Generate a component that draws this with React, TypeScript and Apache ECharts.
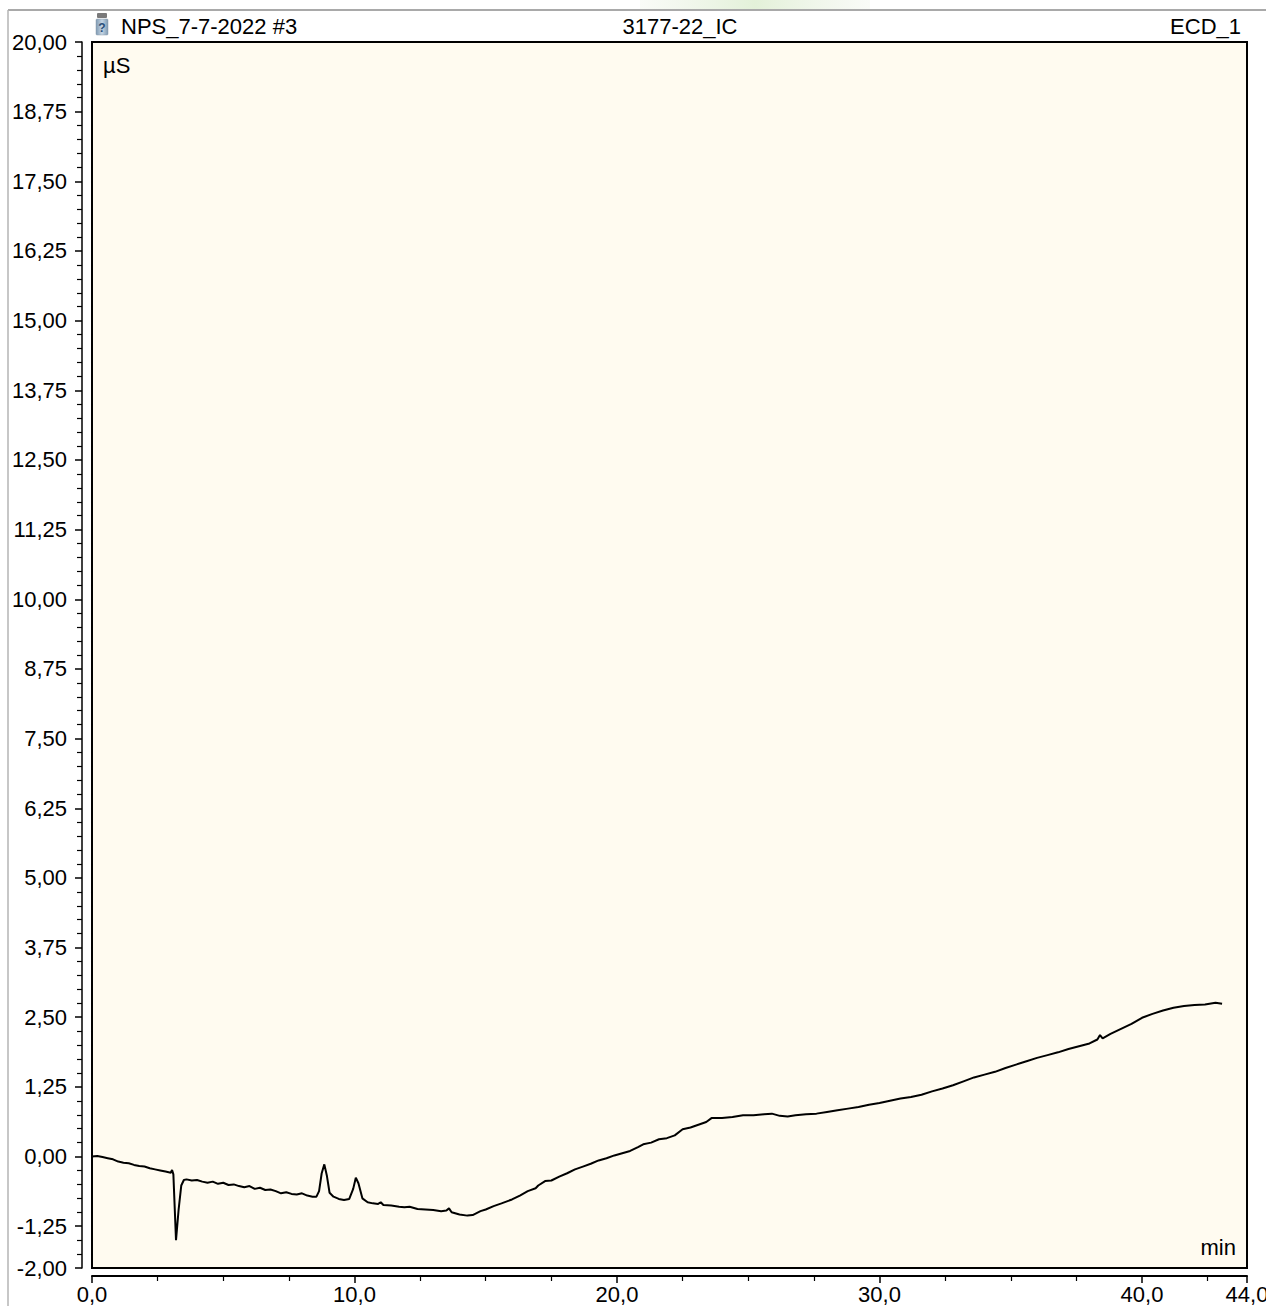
import React, { useEffect, useRef } from "react";
import * as echarts from "echarts";

// Retention time (min)
const timeMin: number[] = [
  0.0, 0.2, 0.4, 0.6, 0.8, 1.0, 1.2, 1.4, 1.6, 1.8, 2.0, 2.2, 2.4, 2.6, 2.8, 3.0, 3.05, 3.1,
  3.2, 3.3, 3.4, 3.5, 3.6, 3.8, 4.0, 4.2, 4.4, 4.6, 4.8, 5.0, 5.2, 5.4, 5.6, 5.8, 6.0, 6.2,
  6.4, 6.6, 6.8, 7.0, 7.2, 7.4, 7.6, 7.8, 8.0, 8.2, 8.4, 8.55, 8.65, 8.75, 8.85, 8.95, 9.05,
  9.2, 9.4, 9.6, 9.8, 9.95, 10.05, 10.15, 10.3, 10.5, 10.7, 10.9, 11.0, 11.1, 11.4, 11.7,
  11.9, 12.1, 12.4, 12.7, 13.0, 13.3, 13.5, 13.6, 13.7, 14.0, 14.3, 14.5, 14.8, 15.0, 15.3,
  15.6, 16.0, 16.3, 16.6, 16.9, 17.0, 17.26, 17.5, 17.8, 18.1, 18.4, 18.7, 19.0, 19.3, 19.6,
  19.9, 20.2, 20.5, 20.8, 21.0, 21.3, 21.6, 21.9, 22.2, 22.5, 22.8, 23.1, 23.4, 23.6, 24.0,
  24.4, 24.8, 25.2, 25.6, 25.9, 26.2, 26.5, 26.8, 27.2, 27.6, 28.0, 28.4, 28.8, 29.2, 29.6,
  30.0, 30.4, 30.8, 31.2, 31.6, 32.0, 32.4, 32.8, 33.2, 33.6, 34.0, 34.4, 34.8, 35.2, 35.6,
  36.0, 36.4, 36.8, 37.2, 37.6, 38.0, 38.3, 38.4, 38.5, 38.8, 39.2, 39.6, 40.0, 40.4, 40.8,
  41.2, 41.6, 42.0, 42.4, 42.8, 43.05,
];

// Conductivity (µS)
const signalUS: number[] = [
  0.0, 0.01, -0.01, -0.03, -0.05, -0.09, -0.11, -0.12, -0.15, -0.17, -0.18, -0.21, -0.23, -0.25, -0.27, -0.29, -0.24, -0.32,
  -1.5, -0.95, -0.52, -0.42, -0.41, -0.43, -0.42, -0.45, -0.47, -0.45, -0.49, -0.47, -0.51, -0.5, -0.53, -0.55, -0.53, -0.58,
  -0.56, -0.6, -0.59, -0.62, -0.66, -0.64, -0.67, -0.68, -0.66, -0.7, -0.72, -0.72, -0.62, -0.3, -0.14, -0.35, -0.65,
  -0.72, -0.76, -0.78, -0.76, -0.58, -0.38, -0.48, -0.75, -0.82, -0.84, -0.85, -0.82, -0.87, -0.88, -0.9,
  -0.91, -0.9, -0.94, -0.95, -0.96, -0.98, -0.97, -0.93, -1.0, -1.04, -1.06, -1.05, -0.98, -0.95, -0.89,
  -0.84, -0.77, -0.7, -0.62, -0.57, -0.52, -0.44, -0.43, -0.36, -0.3, -0.23, -0.18, -0.13, -0.07, -0.03,
  0.02, 0.06, 0.1, 0.17, 0.22, 0.25, 0.31, 0.33, 0.38, 0.49, 0.52, 0.57, 0.62, 0.69, 0.69,
  0.71, 0.74, 0.74, 0.76, 0.77, 0.73, 0.72, 0.74, 0.76, 0.77, 0.8, 0.83, 0.86, 0.89, 0.93,
  0.96, 1.0, 1.04, 1.07, 1.11, 1.17, 1.22, 1.28, 1.35, 1.42, 1.47, 1.52, 1.59, 1.65, 1.71,
  1.77, 1.82, 1.87, 1.93, 1.98, 2.03, 2.1, 2.18, 2.12, 2.2, 2.29, 2.38, 2.49, 2.56, 2.62,
  2.67, 2.7, 2.72, 2.73, 2.76, 2.74,
];

const yMajorTicks: number[] = [-2, -1.25, 0, 1.25, 2.5, 3.75, 5, 6.25, 7.5, 8.75, 10, 11.25, 12.5, 13.75, 15, 16.25, 17.5, 18.75, 20];
const yMinorTicks: number[] = [
  -1.75, -1.5, -1.0, -0.75, -0.5, -0.25, 0.25, 0.5, 0.75, 1.0, 1.5, 1.75, 2.0, 2.25, 2.75, 3.0, 3.25, 3.5,
  4.0, 4.25, 4.5, 4.75, 5.25, 5.5, 5.75, 6.0, 6.5, 6.75, 7.0, 7.25, 7.75, 8.0, 8.25, 8.5, 9.0, 9.25, 9.5,
  9.75, 10.25, 10.5, 10.75, 11.0, 11.5, 11.75, 12.0, 12.25, 12.75, 13.0, 13.25, 13.5, 14.0, 14.25, 14.5,
  14.75, 15.25, 15.5, 15.75, 16.0, 16.5, 16.75, 17.0, 17.25, 17.75, 18.0, 18.25, 18.5, 19.0, 19.25, 19.5, 19.75,
];
const xMajorTicks: number[] = [0, 10, 20, 30, 40, 44];
const xMinorTicks: number[] = [2.5, 5, 7.5, 12.5, 15, 17.5, 22.5, 25, 27.5, 32.5, 35, 37.5, 42.5];

const headerLeft = "NPS_7-7-2022 #3";
const headerCenter = "3177-22_IC";
const headerRight = "ECD_1";
const yUnit = "µS";
const xUnit = "min";

const FONT = "'Liberation Sans', Arial, Helvetica, sans-serif";

export default function App() {
  const ref = useRef<HTMLDivElement>(null);

  useEffect(() => {
    if (!ref.current) return;
    const chart = echarts.init(ref.current, undefined, { renderer: "svg" });
    const data = timeMin.map((t, i) => [t, signalUS[i]]);
    const fmtY = (v: number) => v.toFixed(2).replace(".", ",");
    const fmtX = (v: number) => v.toFixed(1).replace(".", ",");

    const option: any = {
      animation: false,
      backgroundColor: "#ffffff",
      textStyle: { fontFamily: FONT },
      grid: {
        left: 92,
        top: 42,
        right: 19,
        bottom: 38,
        show: true,
        backgroundColor: "#FFFBF0",
        borderColor: "#000000",
        borderWidth: 2,
        containLabel: false,
        outerBoundsMode: "none",
      },
      xAxis: [
        {
          type: "value",
          min: 0,
          max: 44,
          position: "bottom",
          offset: 8,
          splitLine: { show: false },
          axisLine: { show: true, onZero: false, lineStyle: { color: "#000", width: 2 } },
          axisTick: { show: true, customValues: xMajorTicks, length: 7, lineStyle: { color: "#000", width: 1.5 } },
          axisLabel: {
            show: true,
            customValues: xMajorTicks,
            formatter: fmtX,
            fontSize: 22,
            color: "#000",
            fontFamily: FONT,
            margin: 7,
            showMaxLabel: true,
            showMinLabel: true,
          },
        },
        {
          type: "value",
          min: 0,
          max: 44,
          position: "bottom",
          offset: 8,
          splitLine: { show: false },
          axisLine: { show: false, onZero: false },
          axisTick: { show: true, customValues: xMinorTicks, length: 5, lineStyle: { color: "#000", width: 1.2 } },
          axisLabel: { show: false },
        },
      ],
      yAxis: [
        {
          type: "value",
          min: -2,
          max: 20,
          position: "left",
          offset: 10,
          splitLine: { show: false },
          axisLine: { show: true, onZero: false, lineStyle: { color: "#000", width: 1.5 } },
          axisTick: { show: true, customValues: yMajorTicks, length: 7, lineStyle: { color: "#000", width: 1.5 } },
          axisLabel: {
            show: true,
            customValues: yMajorTicks,
            formatter: fmtY,
            fontSize: 22,
            color: "#000",
            fontFamily: FONT,
            margin: 15,
            showMaxLabel: true,
            showMinLabel: true,
          },
        },
        {
          type: "value",
          min: -2,
          max: 20,
          position: "left",
          offset: 10,
          splitLine: { show: false },
          axisLine: { show: false, onZero: false },
          axisTick: { show: true, customValues: yMinorTicks, length: 5, lineStyle: { color: "#000", width: 1.2 } },
          axisLabel: { show: false },
        },
      ],
      series: [
        {
          type: "line",
          xAxisIndex: 0,
          yAxisIndex: 0,
          data,
          showSymbol: false,
          symbol: "none",
          smooth: false,
          lineStyle: { color: "#000000", width: 2 },
          z: 5,
        },
      ],
      graphic: [
        // outer frame lines
        { type: "line", shape: { x1: 8, y1: 10, x2: 1266, y2: 10 }, style: { stroke: "#8c8c8c", lineWidth: 1.5 }, silent: true },
        { type: "line", shape: { x1: 8, y1: 10, x2: 8, y2: 1306 }, style: { stroke: "#b4b4b4", lineWidth: 1.5 }, silent: true },
        // faint watermark strip
        {
          type: "rect",
          shape: { x: 640, y: 0, width: 230, height: 9 },
          style: {
            fill: new echarts.graphic.LinearGradient(0, 0, 1, 0, [
              { offset: 0, color: "rgba(225,235,215,0.2)" },
              { offset: 0.5, color: "rgba(215,235,200,0.7)" },
              { offset: 1, color: "rgba(225,235,215,0.2)" },
            ]),
          },
          silent: true,
        },
        // vial icon
        {
          type: "group",
          x: 96,
          y: 13,
          silent: true,
          children: [
            { type: "rect", shape: { x: 1, y: 0, width: 10, height: 5, r: 1 }, style: { fill: "#7a7a7a" } },
            {
              type: "rect",
              shape: { x: 0, y: 6, width: 12, height: 16, r: 1 },
              style: {
                fill: new echarts.graphic.LinearGradient(0, 0, 1, 0, [
                  { offset: 0, color: "#7f9ab3" },
                  { offset: 0.5, color: "#c6d6e4" },
                  { offset: 1, color: "#7f9ab3" },
                ]),
                stroke: "#8a9aa8",
                lineWidth: 0.5,
              },
            },
            {
              type: "text",
              x: 6,
              y: 15,
              style: { text: "?", fill: "#2a4f7a", font: `bold 12px ${FONT}`, align: "center", verticalAlign: "middle" },
            },
          ],
        },
        {
          type: "text",
          x: 121,
          y: 26,
          style: { text: headerLeft, fill: "#000", font: `22px ${FONT}`, align: "left", verticalAlign: "middle" },
          silent: true,
        },
        {
          type: "text",
          x: 680,
          y: 26,
          style: { text: headerCenter, fill: "#000", font: `22px ${FONT}`, align: "center", verticalAlign: "middle" },
          silent: true,
        },
        {
          type: "text",
          x: 1241,
          y: 26,
          style: { text: headerRight, fill: "#000", font: `22px ${FONT}`, align: "right", verticalAlign: "middle" },
          silent: true,
        },
        {
          type: "text",
          x: 103,
          y: 65,
          style: { text: yUnit, fill: "#000", font: `22px ${FONT}`, align: "left", verticalAlign: "middle" },
          silent: true,
          z: 10,
        },
        {
          type: "text",
          x: 1236,
          y: 1247,
          style: { text: xUnit, fill: "#000", font: `22px ${FONT}`, align: "right", verticalAlign: "middle" },
          silent: true,
          z: 10,
        },
      ],
    };

    chart.setOption(option);
    return () => {
      chart.dispose();
    };
  }, []);

  return (
    <div
      ref={ref}
      style={{ position: "absolute", left: 0, top: 0, width: 1266, height: 1306, background: "#fff" }}
    />
  );
}
